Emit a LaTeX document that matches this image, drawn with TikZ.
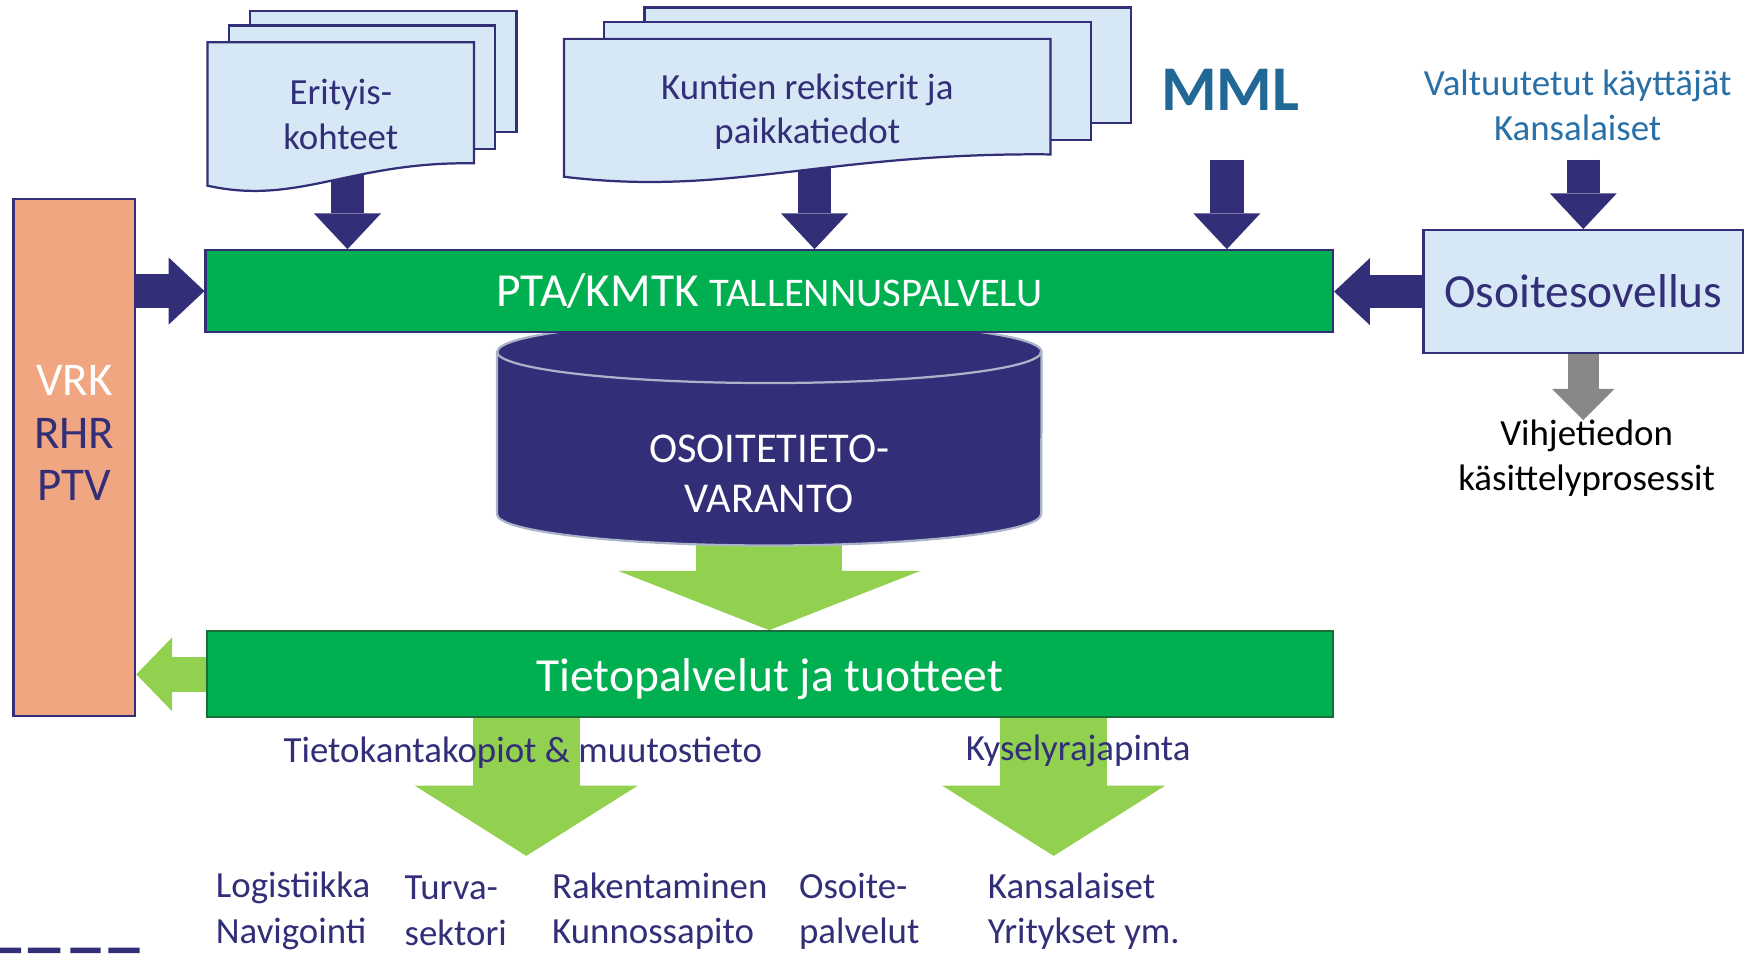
\documentclass[tikz,border=0pt]{standalone}
\usepackage{fontspec}
\setmainfont{Carlito}
\usetikzlibrary{calc}
\usetikzlibrary{arrows.meta}

\definecolor{navy}{RGB}{50,46,120}
\definecolor{docblue}{RGB}{214,231,245}
\definecolor{barGreen}{RGB}{0,176,80}
\definecolor{barEdge}{RGB}{25,110,55}
\definecolor{lightGreen}{RGB}{146,208,80}
\definecolor{salmon}{RGB}{241,166,130}
\definecolor{mmlBlue}{RGB}{34,104,150}
\definecolor{userBlue}{RGB}{40,112,165}
\definecolor{rimGray}{RGB}{170,180,200}
\definecolor{hintGray}{RGB}{136,136,136}

\newcommand{\txtBig}{\fontsize{42.5}{50}\selectfont}
\newcommand{\txtMid}{\fontsize{36.4}{44}\selectfont}
\newcommand{\txtVrk}{\fontsize{42}{47}\selectfont}
\newcommand{\txtDb}{\fontsize{38}{45}\selectfont}
\newcommand{\txtSmall}{\fontsize{33}{40}\selectfont}
\newcommand{\txtLow}{\fontsize{33}{41}\selectfont}
\newcommand{\txtMML}{\fontsize{57}{64}\selectfont\bfseries}

\pgfdeclarelayer{back}
\pgfdeclarelayer{mid}
\pgfsetlayers{back,mid,main}

\tikzset{
    objDoc/.style={rectangle, inner sep=0pt},
    docText/.style={text centered, align=center, text=navy, font=\txtSmall},
    docSheet/.style={fill=docblue, draw=navy, line width=2pt, line join=miter},
    objBar/.style={rectangle, fill=barGreen, text=white, font=\txtBig, line width=2pt},
    objBox/.style={rectangle, draw=navy, line width=2pt, align=center},
    objLabel/.style={text=navy, font=\txtLow, align=left, anchor=west, inner sep=0pt},
    dbShape/.style={fill=navy, draw=rimGray, line width=2pt},
    navyArrow/.style={draw=navy, line width=30pt, -{Triangle[width=60pt, length=32pt, line width=0pt]}},
    greyArrow/.style={draw=hintGray, line width=28pt, -{Triangle[width=56pt, length=28pt, line width=0pt]}},
    greenArrow/.style={draw=lightGreen, line width=96pt, -{Triangle[width=200pt, length=63pt, line width=0pt]}},
    bigGreenArrow/.style={draw=lightGreen, line width=131pt, -{Triangle[width=270pt, length=53pt, line width=0pt]}},
    sideGreenArrow/.style={draw=lightGreen, line width=31pt, -{Triangle[width=66pt, length=32pt, line width=0pt]}}
}

% three sheets behind a document node
\newcommand{\docstack}[2]{%
    \draw [docSheet] ($(#1.north west)+(2*#2,-28)$) rectangle ($(#1.south east)+(2*#2,-48)$);
    \draw [docSheet] ($(#1.north west)+(#2,-15)$) rectangle ($(#1.south east)+(#2,-33)$);
    \draw [docSheet] (#1.north west) -- (#1.north east) -- ($(#1.south east)+(0,-20)$)
        .. controls ($(#1.south west)!0.54!(#1.south east)+(0,-22)$) and ($(#1.south west)!0.34!(#1.south east)+(0,18)$) .. (#1.south west) -- cycle;
}

\begin{document}
\begin{tikzpicture}[x=1pt, y=-1pt]
    \useasboundingbox (0,0) rectangle (1568,853);

    % sources
    \node (erityis) [objDoc, minimum width=238pt, minimum height=128pt] at (305,102) {};
    \node (erityistext) [docText] at (305,102.5) {Erityis-\\kohteet};
    \node (kuntien) [objDoc, minimum width=435pt, minimum height=123pt] at (722.5,96.5) {};
    \node (kuntientext) [docText] at (722.5,100) {Kuntien rekisterit ja\\paikkatiedot};
    \node (mml) [text=mmlBlue, font=\txtMML] at (1101,80) {MML};
    \node (valtuutetut) [text=userBlue, font=\txtSmall, align=center] at (1412,94) {Valtuutetut käyttäjät\\Kansalaiset};
    \coordinate (mmlfoot) at (1098,143);
    \coordinate (valtfoot) at (1417,143);

    % storage
    \node (pta) [objBar, draw=navy, minimum width=1009pt, minimum height=73pt] at (688.5,260.5) {PTA/KMTK {\txtMid TALLENNUSPALVELU}};
    \node (osoite) [objBox, fill=docblue, text=navy, font=\txtBig, minimum width=286pt, minimum height=110pt] at (1417,261) {Osoitesovellus};
    \node (vrk) [objBox, fill=salmon, minimum width=109pt, minimum height=463pt] at (66.5,409.5) {};
    \node (vrktext) [align=center, text=navy, font=\txtVrk] at (66.5,387.5) {\textcolor{white}{VRK}\\RHR\\PTV};
    \node (varanto) [minimum width=487pt, minimum height=145pt] at (688.5,387.5) {};
    \node (varantotext) [text=white, font=\txtDb, align=center] at (688.5,424) {OSOITETIETO-\\VARANTO};
    \node (vihje) [anchor=north, inner sep=0pt, font=\txtSmall, align=center] at (1420,376) {Vihjetiedon\\käsittelyprosessit};

    % services
    \node (tieto) [objBar, draw=barEdge, minimum width=1008pt, minimum height=77pt, text height=40pt, text depth=9pt] at (689,603.5) {Tietopalvelut ja tuotteet};
    \node (kopiot) [text=navy, font=\txtSmall] at (468,674) {Tietokantakopiot \& muutostieto};
    \node (kysely) [text=navy, font=\txtSmall] at (965,672) {Kyselyrajapinta};
    \coordinate (kopiotip) at (471,766);
    \coordinate (kyselytip) at (943,766);

    \node (logistiikka) [objLabel] at (193,815.5) {Logistiikka\\Navigointi};
    \node (turva) [objLabel] at (362,815.5) {Turva-\\sektori};
    \node (rakentaminen) [objLabel] at (494,815.5) {Rakentaminen\\Kunnossapito};
    \node (osoitepalvelut) [objLabel] at (715,815.5) {Osoite-\\palvelut};
    \node (kansalaiset) [objLabel] at (884,815.5) {Kansalaiset\\Yritykset ym.};

    \begin{pgfonlayer}{mid}
        \docstack{erityis}{19}
        \docstack{kuntien}{36}
        \filldraw [dbShape] (varanto.north west) -- (varanto.south west)
            arc[start angle=180, end angle=360, x radius=243.5pt, y radius=28pt] -- (varanto.north east)
            arc[start angle=0, end angle=180, x radius=243.5pt, y radius=28pt] -- cycle;
        \draw [rimGray, line width=2pt] (varanto.north west) arc[start angle=180, end angle=360, x radius=243.5pt, y radius=28pt];
    \end{pgfonlayer}

    \begin{pgfonlayer}{back}
        \draw [navyArrow] ([xshift=6pt,yshift=20pt]erityis.south) -- ([xshift=6pt]erityis.south |- pta.north);
        \draw [navyArrow] ([xshift=6.5pt,yshift=20pt]kuntien.south) -- ([xshift=6.5pt]kuntien.south |- pta.north);
        \draw [navyArrow] (mmlfoot) -- (mmlfoot |- pta.north);
        \draw [navyArrow] (valtfoot) -- (osoite.north);
        \draw [navyArrow] (osoite.west) -- (osoite.west -| pta.east);
        \draw [navyArrow] (vrk.east |- pta.west) -- (pta.west);
        \draw [greyArrow] (osoite.south) -- (osoite.south |- vihje.north);
        \draw [bigGreenArrow] (varanto.south) -- (varanto.south |- tieto.north);
        \draw [sideGreenArrow] (tieto.west) -- (tieto.west -| vrk.east);
        \draw [greenArrow] (tieto.south -| kopiotip) -- (kopiotip);
        \draw [greenArrow] (tieto.south -| kyselytip) -- (kyselytip);
    \end{pgfonlayer}

    \fill [navy] (0,848) rectangle (19,853) (25,848) rectangle (54,853) (63,848) rectangle (90,853) (97,848) rectangle (125,853);

\end{tikzpicture}
\end{document}
